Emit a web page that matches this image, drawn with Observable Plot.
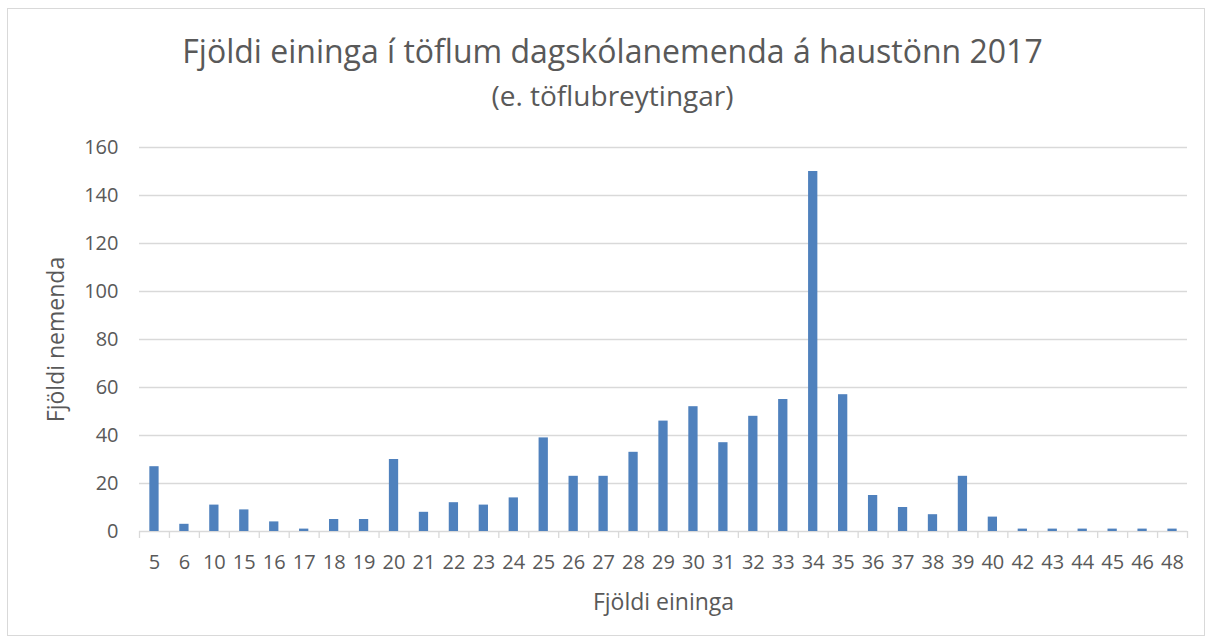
<!DOCTYPE html>
<html><head><meta charset="utf-8">
<script src="https://cdn.jsdelivr.net/npm/d3@7"></script>
<script src="https://cdn.jsdelivr.net/npm/@observablehq/plot@0.6"></script>
<style>
body{margin:0;background:#fff;font-family:"Open Sans",sans-serif;}
#frame{position:absolute;left:7px;top:8px;width:1198px;height:628px;border:1px solid #d9d9d9;box-sizing:border-box;}
#title{position:absolute;left:0;width:1225px;top:35px;text-align:center;font-size:32px;color:#595959;line-height:1;}
#subtitle{position:absolute;left:0;width:1225px;top:81px;text-align:center;font-size:28px;color:#595959;line-height:1;}
#chart{position:absolute;left:0;top:130px;}
</style></head>
<body>
<div id="frame"></div>
<div id="title">Fjöldi eininga í töflum dagskólanemenda á haustönn 2017</div>
<div id="subtitle">(e. töflubreytingar)</div>
<div id="chart"></div>
<script>
const categories = ["5","6","10","15","16","17","18","19","20","21","22","23","24","25","26","27","28","29","30","31","32","33","34","35","36","37","38","39","40","42","43","44","45","46","48"];
const counts = [27,3,11,9,4,1,5,5,30,8,12,11,14,39,23,23,33,46,52,37,48,55,150,57,15,10,7,23,6,1,1,1,1,1,1];
const yTicks = [0,20,40,60,80,100,120,140,160];
const xTitle = "Fjöldi eininga";
const yTitle = "Fjöldi nemenda";

const data = categories.map((c, i) => ({cat: c, n: counts[i]}));
const W = 1213, ML = 139, MR = 26, MT = 17, MB = 100;
const step = (W - ML - MR) / categories.length;

const chart = Plot.plot({
  width: W, height: 401 + MB,
  marginLeft: ML, marginRight: MR, marginTop: MT, marginBottom: MB,
  style: {fontFamily: "Open Sans", fontSize: "23px", color: "#595959", background: "transparent"},
  x: {domain: categories, paddingInner: 0.69, paddingOuter: 0.345},
  y: {domain: [0, 160]},
  marks: [
    Plot.gridY(yTicks, {stroke: "#d9d9d9", strokeOpacity: 1, strokeWidth: 1.3}),
    Plot.ruleX(categories, {x: d => d, y1: 0, y2: -2.9, dx: -step / 2, stroke: "#d9d9d9", strokeWidth: 1.3}),
    Plot.ruleX(categories.slice(-1), {x: d => d, y1: 0, y2: -2.9, dx: step / 2, stroke: "#d9d9d9", strokeWidth: 1.3}),
    Plot.barY(data, {x: "cat", y: "n", fill: "#4f81bd"}),
    Plot.axisY(yTicks, {tickSize: 0, tickPadding: 21, label: null, fontSize: 20}),
    Plot.axisY({ticks: [], tickSize: 0, label: yTitle, labelAnchor: "center", labelArrow: "none", labelOffset: 92}),
    Plot.axisX({tickSize: 0, tickPadding: 23, label: null, fontSize: 20}),
    Plot.axisX({ticks: [], tickSize: 0, label: xTitle, labelAnchor: "center", labelArrow: "none", labelOffset: 78})
  ]
});
document.getElementById("chart").append(chart);
</script>
</body></html>
